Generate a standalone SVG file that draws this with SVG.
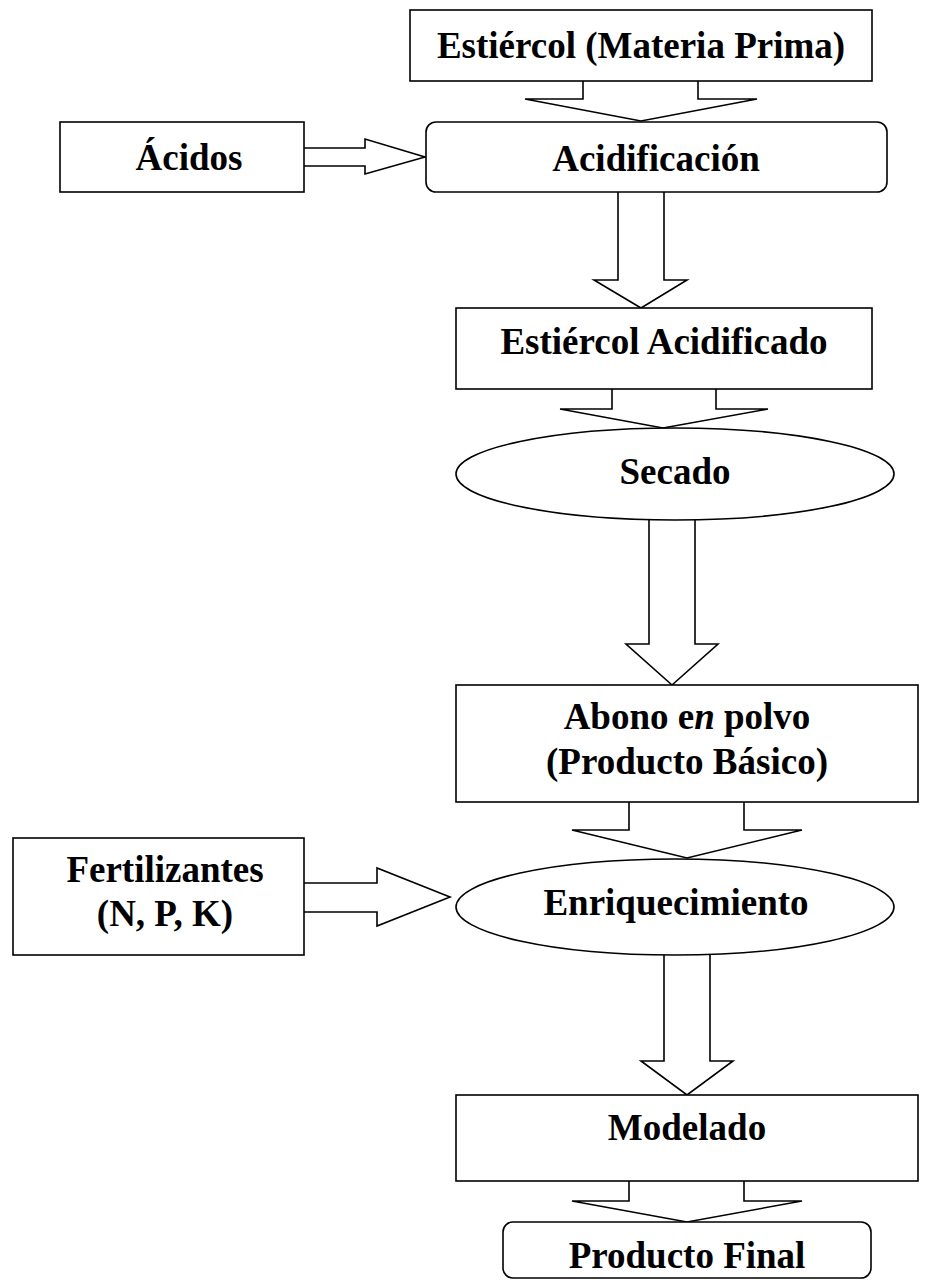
<svg xmlns="http://www.w3.org/2000/svg" width="930" height="1280" viewBox="0 0 930 1280">
<style>
.b{fill:#fff;stroke:#000;stroke-width:1.6}
.a{fill:none;stroke:#000;stroke-width:1.6;stroke-linejoin:miter}
text{font-family:"Liberation Serif","Times New Roman",serif;font-weight:bold;font-size:37px;fill:#000;text-anchor:middle}
</style>
<rect width="930" height="1280" fill="#fff"/>
<g id="connectors">
<polyline class="a" points="583,81 583,99 525,99 641,121 757,99 698,99 698,81"/>
<polyline class="a" points="304,148 365,148 365,139 425,157 365,174 365,166 304,166"/>
<polyline class="a" points="618,192 618,280 594,280 641,308 687,280 664,280 664,192"/>
<polyline class="a" points="612,389 612,409 560,409 663,428 768,409 716,409 716,389"/>
<polyline class="a" points="649,520 649,644 626,644 672,685 718,644 695,644 695,520"/>
<polyline class="a" points="629,802 629,830 572,830 687,858 802,830 744,830 744,802"/>
<polyline class="a" points="304,883 377,883 377,868 450,897 377,926 377,912 304,912"/>
<polyline class="a" points="664,955 664,1061 641,1061 687,1095 733,1061 710,1061 710,955"/>
<polyline class="a" points="629,1181 629,1201 572,1201 687,1222 802,1201 744,1201 744,1181"/>
</g>
<g id="n-estiercol">
<rect class="b" x="410" y="10" width="462" height="71"/>
<text x="641" y="58">Estiércol (Materia Prima)</text>
</g>
<g id="n-acidos">
<rect class="b" x="60" y="122" width="244" height="70"/>
<text x="189" y="170">Ácidos</text>
</g>
<g id="n-acidificacion">
<rect class="b" x="426" y="122" width="461" height="70" rx="10"/>
<text x="656" y="171">Acidificación</text>
</g>
<g id="n-estiercol-acidificado">
<rect class="b" x="456" y="308" width="416" height="81"/>
<text x="664" y="354">Estiércol Acidificado</text>
</g>
<g id="n-secado">
<ellipse class="b" cx="675" cy="474" rx="219" ry="46"/>
<text x="675" y="484">Secado</text>
</g>
<g id="n-abono">
<rect class="b" x="456" y="685" width="462" height="117"/>
<text x="687" y="729">Abono e<tspan font-style="italic">n</tspan> polvo</text>
<text x="687" y="774">(Producto Básico)</text>
</g>
<g id="n-fertilizantes">
<rect class="b" x="13" y="838" width="291" height="117"/>
<text x="165" y="882">Fertilizantes</text>
<text x="165" y="926">(N, P, K)</text>
</g>
<g id="n-enriquecimiento">
<ellipse class="b" cx="675" cy="907" rx="219" ry="48"/>
<text x="676" y="915">Enriquecimiento</text>
</g>
<g id="n-modelado">
<rect class="b" x="456" y="1095" width="462" height="86"/>
<text x="687" y="1140">Modelado</text>
</g>
<g id="n-producto-final">
<rect class="b" x="503" y="1222" width="368" height="56" rx="10"/>
<text x="687" y="1268">Producto Final</text>
</g>
</svg>
